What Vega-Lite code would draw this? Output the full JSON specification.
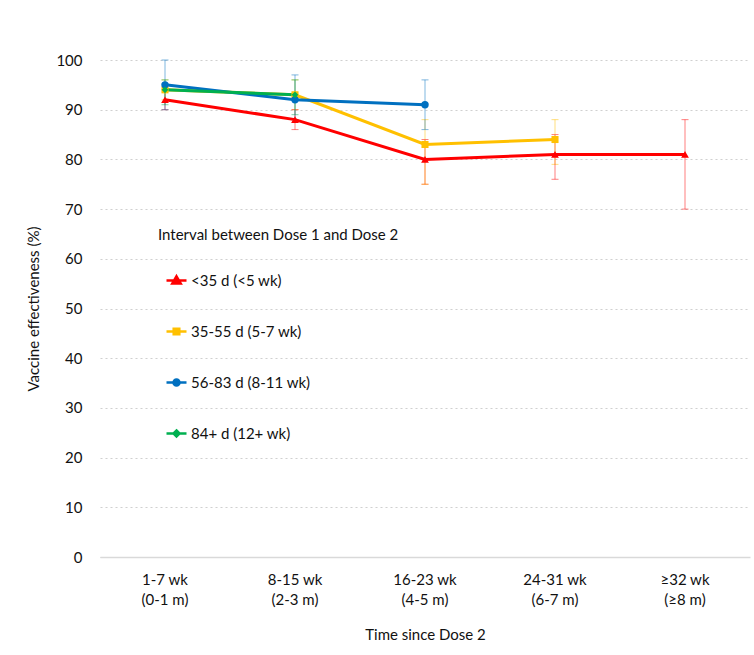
{
  "$schema": "https://vega.github.io/schema/vega-lite/v6.json",
  "width": 650,
  "height": 497,
  "autosize": "none",
  "padding": {"left": 100, "top": 60, "right": 4, "bottom": 98},
  "background": "white",
  "config": {
    "font": "Lato",
    "view": {"stroke": null},
    "axis": {"labelFont": "Lato", "titleFont": "Lato", "labelFontSize": 15, "titleFontSize": 15, "labelColor": "#111111", "titleColor": "#111111", "titleFontWeight": "normal"},
    "legend": {"labelFont": "Lato", "titleFont": "Lato"}
  },
  "data": {
    "values": [
      {"series": "<35 d (<5 wk)", "time": "1-7 wk|(0-1 m)", "ve": 92, "lo": 90, "hi": 94},
      {"series": "<35 d (<5 wk)", "time": "8-15 wk|(2-3 m)", "ve": 88, "lo": 86, "hi": 90},
      {"series": "<35 d (<5 wk)", "time": "16-23 wk|(4-5 m)", "ve": 80, "lo": 75, "hi": 84},
      {"series": "<35 d (<5 wk)", "time": "24-31 wk|(6-7 m)", "ve": 81, "lo": 76, "hi": 85},
      {"series": "<35 d (<5 wk)", "time": "≥32 wk|(≥8 m)", "ve": 81, "lo": 70, "hi": 88},
      {"series": "35-55 d (5-7 wk)", "time": "1-7 wk|(0-1 m)", "ve": 94, "lo": 92, "hi": 96},
      {"series": "35-55 d (5-7 wk)", "time": "8-15 wk|(2-3 m)", "ve": 93, "lo": 90, "hi": 96},
      {"series": "35-55 d (5-7 wk)", "time": "16-23 wk|(4-5 m)", "ve": 83, "lo": 75, "hi": 88},
      {"series": "35-55 d (5-7 wk)", "time": "24-31 wk|(6-7 m)", "ve": 84, "lo": 79, "hi": 88},
      {"series": "56-83 d (8-11 wk)", "time": "1-7 wk|(0-1 m)", "ve": 95, "lo": 90, "hi": 100},
      {"series": "56-83 d (8-11 wk)", "time": "8-15 wk|(2-3 m)", "ve": 92, "lo": 88, "hi": 97},
      {"series": "56-83 d (8-11 wk)", "time": "16-23 wk|(4-5 m)", "ve": 91, "lo": 86, "hi": 96},
      {"series": "84+ d (12+ wk)", "time": "1-7 wk|(0-1 m)", "ve": 94, "lo": 91, "hi": 96},
      {"series": "84+ d (12+ wk)", "time": "8-15 wk|(2-3 m)", "ve": 93, "lo": 89, "hi": 96}
    ]
  },
  "encoding": {
    "x": {
      "field": "time", "type": "nominal", "sort": null,
      "scale": {"paddingInner": 0, "paddingOuter": 0},
      "axis": {"title": "Time since Dose 2", "labelAngle": 0, "labelExpr": "split(datum.label, '|')", "labelLineHeight": 20, "labelPadding": 15, "ticks": false, "domain": true, "domainColor": "#d9d9d9", "domainWidth": 1.5, "titlePadding": 20}
    },
    "color": {
      "field": "series", "type": "nominal",
      "scale": {"domain": ["<35 d (<5 wk)", "35-55 d (5-7 wk)", "56-83 d (8-11 wk)", "84+ d (12+ wk)"], "range": ["#ff0000", "#ffc000", "#0070c0", "#00b050"]},
      "legend": {
        "title": "Interval between Dose 1 and Dose 2",
        "orient": "none", "legendX": 58, "legendY": 168,
        "titleFontSize": 15, "titleFontWeight": "normal", "titleColor": "#111111", "titlePadding": 26, "titleLimit": 500,
        "labelFontSize": 15, "labelColor": "#111111", "labelOffset": 3,
        "symbolSize": 400, "symbolOffset": 7, "rowPadding": 31,
        "encode": {
          "symbols": {
            "update": {
              "shape": {"signal": "datum.value === '<35 d (<5 wk)' ? 'M-1,0H1M0,-0.42L0.42,0.3H-0.42Z' : datum.value === '35-55 d (5-7 wk)' ? 'M-1,0H1M-0.28,-0.28H0.28V0.28H-0.28Z' : datum.value === '56-83 d (8-11 wk)' ? 'M-1,0H1M-0.3,0A0.3,0.3 0 1,0 0.3,0A0.3,0.3 0 1,0 -0.3,0Z' : 'M-1,0H1M0,-0.3L0.3,0L0,0.3L-0.3,0Z'"},
              "fill": {"scale": "color", "field": "value"},
              "stroke": {"scale": "color", "field": "value"},
              "strokeWidth": {"value": 2.5},
              "opacity": {"value": 1}
            }
          }
        }
      }
    }
  },
  "layer": [
    {
      "mark": {"type": "errorbar", "ticks": {"size": 7}, "opacity": 0.5},
      "encoding": {
        "y": {"field": "lo", "type": "quantitative", "scale": {"domain": [0, 100]}, "title": "Vaccine effectiveness (%)"},
        "y2": {"field": "hi"}
      }
    },
    {
      "mark": {"type": "line", "strokeWidth": 3},
      "encoding": {
        "y": {
          "field": "ve", "type": "quantitative",
          "scale": {"domain": [0, 100]},
          "axis": {"title": "Vaccine effectiveness (%)", "values": [0,10,20,30,40,50,60,70,80,90,100], "grid": true, "gridColor": "#d0d0d0", "gridDash": [2, 3], "gridWidth": 1.2, "domain": false, "ticks": false, "labelPadding": 18, "titlePadding": 14}
        }
      }
    },
    {
      "transform": [{"filter": "datum.series === '<35 d (<5 wk)'"}],
      "mark": {"type": "point", "shape": "triangle-up", "filled": true, "opacity": 1, "size": 60},
      "encoding": {"y": {"field": "ve", "type": "quantitative"}}
    },
    {
      "transform": [{"filter": "datum.series === '35-55 d (5-7 wk)'"}],
      "mark": {"type": "point", "shape": "square", "filled": true, "opacity": 1, "size": 50},
      "encoding": {"y": {"field": "ve", "type": "quantitative"}}
    },
    {
      "transform": [{"filter": "datum.series === '56-83 d (8-11 wk)'"}],
      "mark": {"type": "point", "shape": "circle", "filled": true, "opacity": 1, "size": 55},
      "encoding": {"y": {"field": "ve", "type": "quantitative"}}
    },
    {
      "transform": [{"filter": "datum.series === '84+ d (12+ wk)'"}],
      "mark": {"type": "point", "shape": "diamond", "filled": true, "opacity": 1, "size": 45},
      "encoding": {"y": {"field": "ve", "type": "quantitative"}}
    }
  ]
}
